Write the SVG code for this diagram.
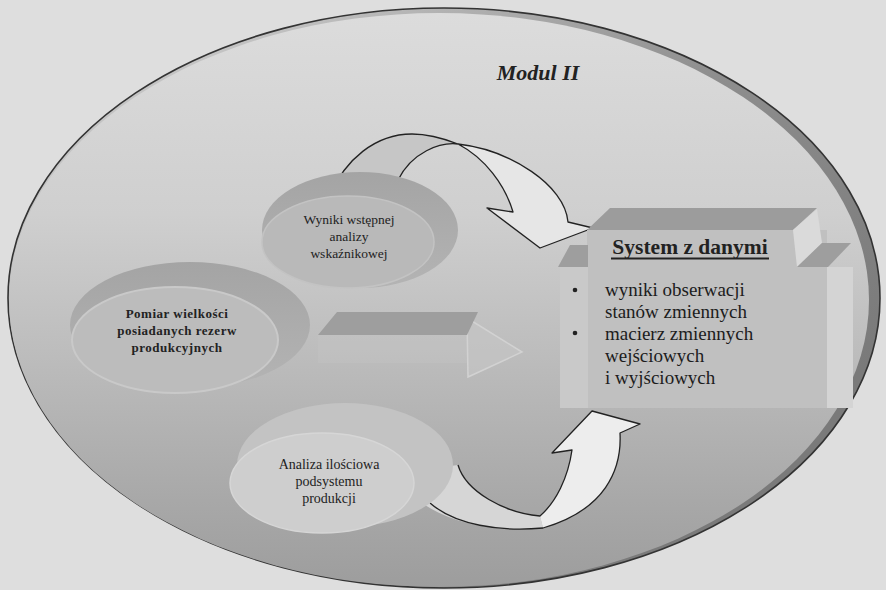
<svg xmlns="http://www.w3.org/2000/svg" width="886" height="590" viewBox="0 0 886 590">
  <defs>
    <linearGradient id="faceGrad" x1="0" y1="0" x2="0" y2="1">
      <stop offset="0" stop-color="#dcdcdc"/>
      <stop offset="0.35" stop-color="#cfcfcf"/>
      <stop offset="0.6" stop-color="#bcbcbc"/>
      <stop offset="0.85" stop-color="#a8a8a8"/>
      <stop offset="1" stop-color="#9d9d9d"/>
    </linearGradient>
    <linearGradient id="rimGrad" x1="0.3" y1="0" x2="1" y2="0.6">
      <stop offset="0" stop-color="#c4c4c4"/>
      <stop offset="0.5" stop-color="#8e8e8e"/>
      <stop offset="1" stop-color="#7a7a7a"/>
    </linearGradient>
    <linearGradient id="blobTop" x1="0" y1="0" x2="0" y2="1">
      <stop offset="0" stop-color="#a4a4a4"/>
      <stop offset="1" stop-color="#b4b4b4"/>
    </linearGradient>
  </defs>
  <style>
    .lbl { font-family: "Liberation Serif", "Times New Roman", serif; fill: #222; text-anchor: middle; }
    .small { font-size: 13.5px; }
    .bold { font-weight: bold; }
    .box { font-family: "Liberation Serif", "Times New Roman", serif; font-size: 19px; fill: #1c1c1c; }
    .edge { fill: none; stroke: #222; stroke-width: 1.3; stroke-linejoin: round; }
  </style>

  <!-- page -->
  <rect x="0" y="0" width="886" height="590" fill="#dedede"/>

  <!-- module disc: rim + face -->
  <g id="module">
    <ellipse cx="444" cy="298" rx="436" ry="290" fill="url(#rimGrad)" stroke="#333" stroke-width="1.6"/>
    <ellipse cx="439" cy="300" rx="430" ry="287" fill="url(#faceGrad)"/>
    <text class="lbl bold" x="538" y="80" font-size="22" font-style="italic">Modul II</text>
  </g>

  <!-- connectors -->
  <g id="connectors">
    <!-- curved arrow over the top -->
    <g id="arrow-top">
      <path d="M330,195 C345,160 375,134 412,134 C430,134 445,139 458,144 C440,142 412,152 398,180 Z" fill="#c2c2c2" fill-opacity="0.75"/>
      <path d="M458,144 C510,150 565,185 568,222 L593,228 L540,248 L487,208 L513,212 C505,185 485,158 458,144 Z" fill="#e6e6e6"/>
      <path class="edge" d="M330,195 C345,160 375,134 412,134 C430,134 445,139 458,144 C510,150 565,185 568,222 L593,228 L540,248 L487,208 L513,212 C505,185 485,158 458,144 C440,142 412,152 398,180"/>
    </g>
    <!-- flat arrow in the middle -->
    <g id="arrow-mid">
      <rect x="318" y="335" width="149" height="28" fill="#c6c6c6" fill-opacity="0.35"/>
      <polygon points="467,318 522,352 468,377" fill="#c4c4c4" fill-opacity="0.7" stroke="#d2d2d2" stroke-width="1.5"/>
      <polygon points="337,312 478,312 467,335 318,335" fill="#9e9e9e"/>
    </g>
    <!-- curved arrow from below -->
    <g id="arrow-bottom">
      <path d="M420,470 L458,465 C466,492 505,513 540,516 L543,528 C500,532 455,525 425,505 Z" fill="#d6d6d6"/>
      <path d="M540,516 C556,502 568,478 572,450 L552,453 L592,411 L640,424 L620,433 C622,470 605,510 543,528 Z" fill="#ededed"/>
      <path class="edge" d="M458,465 C466,492 505,513 540,516 C556,502 568,478 572,450 L552,453 L592,411 L640,424 L620,433 C622,470 605,510 543,528 C500,532 455,525 430,503"/>
    </g>
  </g>

  <!-- node: preliminary indicator analysis -->
  <g id="node-wyniki">
    <ellipse cx="360" cy="230" rx="98" ry="58" fill="url(#blobTop)"/>
    <ellipse cx="348" cy="242" rx="86" ry="46" fill="#b9b9b9" stroke="#c3c3c3" stroke-width="1.5"/>
    <text class="lbl small" x="349" y="224">Wyniki wstępnej</text>
    <text class="lbl small" x="349" y="241">analizy</text>
    <text class="lbl small" x="349" y="258">wskaźnikowej</text>
  </g>

  <!-- node: production reserves -->
  <g id="node-pomiar">
    <ellipse cx="190" cy="325" rx="120" ry="63" fill="url(#blobTop)"/>
    <ellipse cx="175" cy="340" rx="103" ry="53" fill="#bcbcbc" stroke="#c9c9c9" stroke-width="2"/>
    <text class="lbl bold" x="177" y="318" font-size="13" letter-spacing="0.5">Pomiar wielkości</text>
    <text class="lbl bold" x="177" y="335" font-size="13" letter-spacing="0.5">posiadanych rezerw</text>
    <text class="lbl bold" x="177" y="352" font-size="13" letter-spacing="0.5">produkcyjnych</text>
  </g>

  <!-- node: quantitative analysis -->
  <g id="node-analiza">
    <ellipse cx="345" cy="465" rx="108" ry="62" fill="#c3c3c3"/>
    <ellipse cx="322" cy="483" rx="92" ry="50" fill="#cecece" stroke="#d6d6d6" stroke-width="1.5"/>
    <text class="lbl" x="329" y="469" font-size="14">Analiza ilościowa</text>
    <text class="lbl" x="329" y="486" font-size="14">podsystemu</text>
    <text class="lbl" x="329" y="503" font-size="14">produkcji</text>
  </g>

  <!-- node: data system box -->
  <g id="node-system">
    <rect x="587" y="230" width="240" height="178" fill="#c0c0c0"/>
    <rect x="560" y="267" width="28" height="141" fill="#c9c9c9"/>
    <polygon points="570,245 588,245 588,267 558,267" fill="#9e9e9e"/>
    <polygon points="610,208 817,208 793,230 587,230" fill="#9c9c9c"/>
    <polygon points="793,230 817,209 822,243 797,267" fill="#dadada"/>
    <polygon points="822,243 851,243 828,267 797,267" fill="#9e9e9e"/>
    <rect x="827" y="267" width="26" height="141" fill="#d4d4d4"/>
    <text class="lbl bold" x="690" y="254" font-size="21.5">System z danymi</text>
    <line x1="611" y1="258.5" x2="769" y2="258.5" stroke="#222" stroke-width="1.8"/>
    <circle cx="575" cy="290" r="2.3" fill="#222"/>
    <circle cx="575" cy="333" r="2.3" fill="#222"/>
    <text class="box" x="605" y="296">wyniki obserwacji</text>
    <text class="box" x="605" y="318">stanów zmiennych</text>
    <text class="box" x="605" y="340">macierz zmiennych</text>
    <text class="box" x="605" y="362">wejściowych</text>
    <text class="box" x="605" y="384">i wyjściowych</text>
  </g>
</svg>
